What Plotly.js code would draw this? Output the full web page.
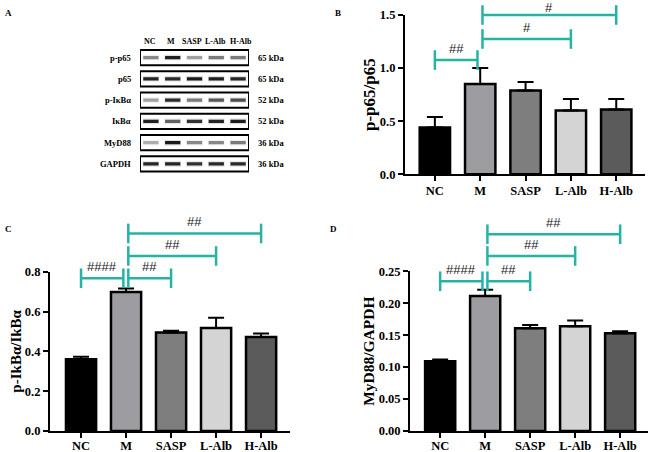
<!DOCTYPE html>
<html><head><meta charset="utf-8">
<script src="https://cdn.plot.ly/plotly-3.0.1.min.js"></script>
<style>html,body{margin:0;padding:0;background:#fff}#chart{width:650px;height:452px}</style>
</head><body><div id="chart"></div>
<script>
// ---------- data ----------
const groups = ['NC', 'M', 'SASP', 'L-Alb', 'H-Alb'];
const barColors = ['#000000', '#9d9ca1', '#7e7e7e', '#d4d4d4', '#5b5b5b'];

const pp65Mean = [0.44, 0.85, 0.79, 0.60, 0.61];
const pp65Err = [0.10, 0.15, 0.08, 0.11, 0.10];
const pIkbMean = [0.36, 0.698, 0.495, 0.517, 0.472];
const pIkbErr = [0.013, 0.018, 0.008, 0.052, 0.018];
const myd88Mean = [0.109, 0.2115, 0.161, 0.164, 0.153];
const myd88Err = [0.003, 0.0095, 0.005, 0.009, 0.003];

// [from, to, level, label]
const bracketsB = [['NC', 'M', 1.076, '##'], ['M', 'L-Alb', 1.274, '#'], ['M', 'H-Alb', 1.5, '#']];
const bracketsC = [['NC', 'M', 0.767, '####'], ['M', 'SASP', 0.767, '##'], ['M', 'L-Alb', 0.879, '##'], ['M', 'H-Alb', 0.992, '##']];
const bracketsD = [['NC', 'M', 0.2344, '####'], ['M', 'SASP', 0.2344, '##'], ['M', 'L-Alb', 0.274, '##'], ['M', 'H-Alb', 0.308, '##']];

const yTitleB = 'p-p65/p65';
const yTitleC = 'p-IkBα/IkBα';
const yTitleD = 'MyD88/GAPDH';

// western blot (panel A): band darkness per lane
const blotRows = ['p-p65', 'p65', 'p-IκBα', 'IκBα', 'MyD88', 'GAPDH'];
const blotKDa = ['65 kDa', '65 kDa', '52 kDa', '52 kDa', '36 kDa', '36 kDa'];
const bandPp65 = [0.45, 0.9, 0.35, 0.5, 0.5];
const bandP65 = [0.88, 0.85, 0.92, 0.9, 0.88];
const bandPIkb = [0.35, 0.85, 0.5, 0.65, 0.7];
const bandIkb = [0.9, 0.6, 0.82, 0.88, 0.92];
const bandMyd88 = [0.3, 0.92, 0.45, 0.45, 0.5];
const bandGapdh = [0.88, 0.88, 0.82, 0.86, 0.86];
const bandRows = [bandPp65, bandP65, bandPIkb, bandIkb, bandMyd88, bandGapdh];

// ---------- style ----------
const H = 452;
const teal = '#26b3a5';
const serifB = {family: 'Liberation Serif, Times New Roman, serif', color: '#000', weight: 700};
const panels = [
  {xa: 'x', ya: 'y', bx: 'x4', by: 'y4', xDom: [0.623, 0.992], yDom: [0.6144, 0.9668], xRange: [-0.66, 4.63], yMax: 1.5, dtick: 0.5, fmt: '.1f', extTop: 1.0, mean: pp65Mean, err: pp65Err, br: bracketsB, lblShift: [2, 2, -2], title: yTitleB, tsize: 17, lblOff: -1},
  {xa: 'x2', ya: 'y2', bx: 'x5', by: 'y5', xDom: [0.0769, 0.446], yDom: [0.0465, 0.3989], xRange: [-0.69, 4.64], yMax: 0.8, dtick: 0.2, fmt: '.1f', extTop: 0.54, mean: pIkbMean, err: pIkbErr, br: bracketsC, lblShift: [2, 2, 2, 2], title: yTitleC, tsize: 15, lblOff: -3},
  {xa: 'x3', ya: 'y3', bx: 'x6', by: 'y6', xDom: [0.6308, 0.997], yDom: [0.0465, 0.3998], xRange: [-0.67, 4.62], yMax: 0.25, dtick: 0.05, fmt: '.2f', extTop: 0.54, mean: myd88Mean, err: myd88Err, br: bracketsD, lblShift: [2, 2, 2, 2], title: yTitleD, tsize: 15.5, lblOff: -3}
];

const axName = id => id.replace('x', 'xaxis').replace('y', 'yaxis');
const traces = [];
const layout = {
  width: 650, height: 452, margin: {l: 0, r: 0, t: 0, b: 0},
  paper_bgcolor: '#fff', plot_bgcolor: 'rgba(0,0,0,0)', showlegend: false,
  annotations: [], shapes: []
};

panels.forEach(p => {
  traces.push({
    type: 'bar', x: groups, y: p.mean, xaxis: p.xa, yaxis: p.ya, width: 0.67,
    marker: {color: barColors, line: {color: '#000', width: 2.5}},
    error_y: {type: 'data', symmetric: false, array: p.err, arrayminus: p.err.map(() => 0), color: '#000', thickness: 2, width: 8},
    hoverinfo: 'skip'
  });
  layout[axName(p.xa)] = {
    domain: p.xDom, range: p.xRange, type: 'category', anchor: p.ya,
    showline: true, linecolor: '#000', linewidth: 2, ticks: 'outside', ticklen: 5, tickwidth: 2, tickcolor: '#000',
    ticklabelstandoff: p.lblOff,
    showgrid: false, zeroline: false, tickfont: Object.assign({size: 12.5}, serifB), fixedrange: true
  };
  layout[axName(p.ya)] = {
    domain: p.yDom, range: [0, p.yMax], anchor: p.xa, dtick: p.dtick, tick0: 0, tickformat: p.fmt,
    showline: true, linecolor: '#000', linewidth: 2, ticks: 'outside', ticklen: 5, tickwidth: 2, tickcolor: '#000',
    showgrid: false, zeroline: false, tickfont: Object.assign({size: 12.5}, serifB),
    title: {text: p.title, font: Object.assign({size: p.tsize}, serifB), standoff: 0}, fixedrange: true
  };
  // overlay subplot for significance brackets (same scale, taller domain)
  const extRange = p.yMax * (p.extTop - p.yDom[0]) / (p.yDom[1] - p.yDom[0]);
  layout[axName(p.bx)] = {domain: p.xDom, range: p.xRange, anchor: p.by, visible: false, fixedrange: true};
  layout[axName(p.by)] = {domain: [p.yDom[0], p.extTop], range: [0, extRange], anchor: p.bx, visible: false, fixedrange: true};
  const mIdx = groups.indexOf('M');
  p.br.forEach((b, n) => {
    const i = groups.indexOf(b[0]), j = groups.indexOf(b[1]);
    const left = i + (i === mIdx ? 0.05 : 0);
    const right = j - (j === mIdx ? 0.06 : 0);
    traces.push({
      type: 'scatter', mode: 'lines+markers', x: [left, right], y: [b[2], b[2]], xaxis: p.bx, yaxis: p.by,
      line: {color: teal, width: 2.5},
      marker: {symbol: 'line-ns-open', size: 14, color: teal, line: {color: teal, width: 2.5}},
      cliponaxis: false, hoverinfo: 'skip'
    });
    layout.annotations.push({
      xref: p.bx, yref: p.by, x: (left + right) / 2, y: b[2], text: b[3], showarrow: false,
      yanchor: 'bottom', yshift: p.lblShift[n], font: {family: 'Liberation Sans, Arial, sans-serif', size: 13, color: '#222'}
    });
  });
});

// ---------- panel A: western blot ----------
const blotXDom = [140 / 650, 249 / 650];
const blotYDom = [(H - 174.6) / H, (H - 46.9) / H];
const laneLabelShift = [-1, -2, -3, -1, 3];
layout.xaxis7 = {domain: blotXDom, range: [-0.5, 4.5], anchor: 'y7', visible: false, fixedrange: true};
layout.yaxis7 = {domain: blotYDom, range: [5.5, -0.5], anchor: 'x7', visible: false, fixedrange: true};
traces.push({type: 'scatter', mode: 'markers', x: [0], y: [0], xaxis: 'x7', yaxis: 'y7', marker: {opacity: 0}, hoverinfo: 'skip'});
blotRows.forEach((name, r) => {
  bandRows[r].forEach((k, i) => {
    layout.shapes.push({type: 'rect', xref: 'x7', yref: 'y7', x0: i - 0.38, x1: i + 0.38, y0: r - 0.13, y1: r + 0.13,
      fillcolor: `rgba(90,90,90,${(k * 0.22).toFixed(3)})`, line: {width: 0}, layer: 'above'});
    layout.shapes.push({type: 'rect', xref: 'x7', yref: 'y7', x0: i - 0.35, x1: i + 0.35, y0: r - 0.075, y1: r + 0.075,
      fillcolor: `rgba(10,10,10,${k.toFixed(3)})`, line: {width: 0}, layer: 'above'});
  });
  layout.shapes.push({type: 'rect', xref: 'x7', yref: 'y7', x0: -0.5, x1: 4.5, y0: r - 0.36, y1: r + 0.36,
    line: {color: '#000', width: 2}, fillcolor: 'rgba(0,0,0,0)', layer: 'above'});
  layout.annotations.push({xref: 'x7', yref: 'y7', x: -0.5, y: r, text: name, showarrow: false, xanchor: 'right', xshift: -7,
    font: Object.assign({size: 8.5}, serifB)});
  layout.annotations.push({xref: 'x7', yref: 'y7', x: 4.5, y: r, text: blotKDa[r], showarrow: false, xanchor: 'left', xshift: 7,
    font: Object.assign({size: 8.5}, serifB)});
});
groups.forEach((g, i) => {
  layout.annotations.push({xref: 'x7', yref: 'y7', x: i, y: -0.5, text: g, showarrow: false, yanchor: 'bottom', yshift: -1,
    xshift: laneLabelShift[i], font: Object.assign({size: 8}, serifB)});
});

// panel letters
[['A', 0.004, 1 - 13 / H], ['B', 0.512, 1 - 13 / H], ['C', 0.004, 1 - 229 / H], ['D', 0.505, 1 - 229 / H]].forEach(l => {
  layout.annotations.push({xref: 'paper', yref: 'paper', x: l[1], y: l[2], text: l[0], showarrow: false,
    xanchor: 'left', yanchor: 'middle', font: Object.assign({size: 9}, serifB)});
});

Plotly.newPlot('chart', traces, layout, {staticPlot: true, displayModeBar: false});
</script>
</body></html>
